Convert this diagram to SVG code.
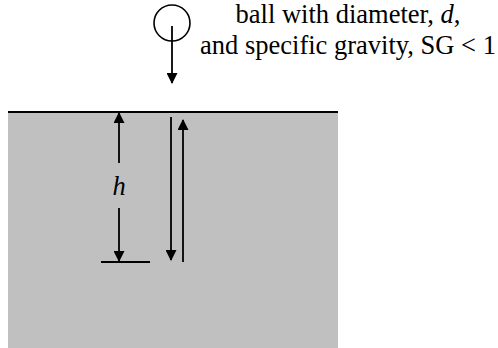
<svg xmlns="http://www.w3.org/2000/svg" width="498" height="348" viewBox="0 0 498 348">
<style>
.ln{stroke:#000;stroke-width:1.8;fill:none}
text{font-family:'Liberation Serif','DejaVu Serif',serif;font-size:26.5px;fill:#000}
</style>
<defs>
<marker id="ah" viewBox="0 0 11 11" refX="10" refY="5.5" markerWidth="11" markerHeight="11" markerUnits="userSpaceOnUse" orient="auto">
<path d="M0,0 L11,5.5 L0,11 Z" fill="#000"/>
</marker>
</defs>
<rect id="fluid" x="8" y="112" width="330" height="236" fill="#c0c0c0"/>
<line x1="8" y1="112" x2="338" y2="112" stroke="#000" stroke-width="2"/>
<g id="ball">
<circle cx="172" cy="23" r="18" fill="none" stroke="#000" stroke-width="1.6"/>
</g>
<g id="label">
<text x="348" y="23" text-anchor="middle">ball with diameter, <tspan font-style="italic">d</tspan>,</text>
<text x="348" y="54" text-anchor="middle">and specific gravity, SG &lt; 1</text>
</g>
<g id="depth">
<line x1="101" y1="262" x2="150" y2="262" stroke="#000" stroke-width="2"/>
<text x="119" y="195" text-anchor="middle" font-style="italic">h</text>
</g>
<g id="connectors">
<line class="ln" x1="172" y1="26" x2="172" y2="83" marker-end="url(#ah)"/>
<line class="ln" x1="119" y1="163" x2="119" y2="113" marker-end="url(#ah)"/>
<line class="ln" x1="119" y1="208" x2="119" y2="261" marker-end="url(#ah)"/>
<line class="ln" x1="171" y1="117" x2="171" y2="260" marker-end="url(#ah)"/>
<line class="ln" x1="183" y1="262" x2="183" y2="120" marker-end="url(#ah)"/>
</g>
</svg>
